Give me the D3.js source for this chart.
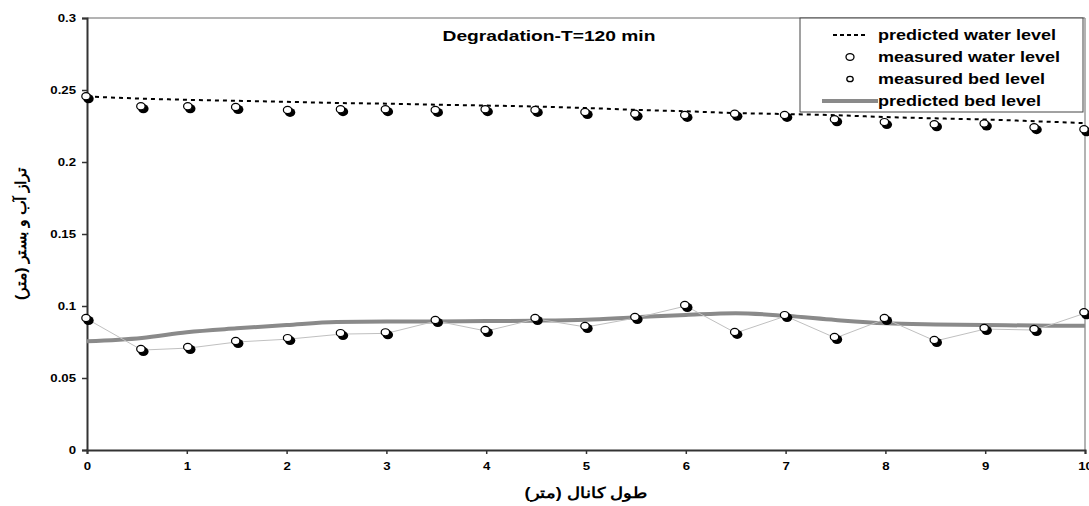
<!DOCTYPE html>
<html>
<head>
<meta charset="utf-8">
<script src="https://cdn.jsdelivr.net/npm/d3@7"></script>
<style>
  body { margin: 0; background: #fff; }
  svg { font-family: "Liberation Sans", Arial, sans-serif; }
</style>
</head>
<body>
<svg id="chart" width="1089" height="506"></svg>
<script>
// Data
const measuredX = [0, 0.55, 1.02, 1.5, 2.02, 2.55, 3.0, 3.5, 4.0, 4.5, 5.0, 5.5, 6.0, 6.5, 7.0, 7.5, 8.0, 8.5, 9.0, 9.5, 10];
const measuredWater = [0.245, 0.238, 0.238, 0.2375, 0.2355, 0.236, 0.236, 0.2355, 0.236, 0.2355, 0.234, 0.2328, 0.232, 0.2328, 0.232, 0.229, 0.227, 0.2255, 0.226, 0.2235, 0.222];
const measuredBed = [0.091, 0.0694, 0.0708, 0.075, 0.077, 0.0805, 0.081, 0.0896, 0.0826, 0.091, 0.0854, 0.0917, 0.100, 0.0813, 0.093, 0.0778, 0.091, 0.0757, 0.084, 0.0833, 0.095];

const predX = [0, 0.55, 1, 1.5, 2, 2.5, 3, 3.5, 4, 4.5, 5, 5.5, 6, 6.5, 7, 7.5, 8, 8.5, 9, 9.5, 10];
const predWater = [0.2455, 0.244, 0.2432, 0.2425, 0.2418, 0.241, 0.2405, 0.2398, 0.2392, 0.2385, 0.2375, 0.2362, 0.2352, 0.234, 0.2333, 0.2325, 0.2312, 0.2303, 0.2295, 0.2283, 0.227];
const predBed = [0.0755, 0.0778, 0.0818, 0.0845, 0.0868, 0.0889, 0.0892, 0.0893, 0.0895, 0.0898, 0.0905, 0.0922, 0.0938, 0.095, 0.0932, 0.0903, 0.088, 0.0872, 0.0868, 0.0864, 0.0862];

const xTicks = [0, 1, 2, 3, 4, 5, 6, 7, 8, 9, 10];
const yTicks = [0, 0.05, 0.1, 0.15, 0.2, 0.25, 0.3];

const legendItems = ["predicted water level", "measured water level", "measured bed level", "predicted bed level"];

const svg = d3.select("#chart");
const margin = { left: 87, right: 4, top: 18, bottom: 56 };
const W = 1089, H = 506;

const x = d3.scaleLinear().domain([0, 10]).range([margin.left, W - margin.right]);
const y = d3.scaleLinear().domain([0, 0.3]).range([H - margin.bottom, margin.top]);

// the original picture is stretched sideways, so widen texts a bit
function stretch(sel, k) {
  sel.each(function () {
    const w = this.getComputedTextLength();
    d3.select(this).attr("textLength", w * k).attr("lengthAdjust", "spacingAndGlyphs");
  });
}

// frame (top and right)
svg.append("line")
  .attr("x1", x(0)).attr("x2", x(10)).attr("y1", y(0.3)).attr("y2", y(0.3))
  .attr("stroke", "#9a9a9a").attr("stroke-width", 1.5);
svg.append("line")
  .attr("x1", x(10)).attr("x2", x(10)).attr("y1", y(0.3)).attr("y2", y(0))
  .attr("stroke", "#9a9a9a").attr("stroke-width", 1.5);

// axes
const xAxis = svg.append("g")
  .attr("transform", `translate(0,${y(0)})`)
  .call(d3.axisBottom(x).tickValues(xTicks).tickSize(4).tickPadding(8).tickFormat(d3.format("d")));
const yAxis = svg.append("g")
  .attr("transform", `translate(${x(0)},0)`)
  .call(d3.axisLeft(y).tickValues(yTicks).tickSize(5).tickPadding(6).tickFormat(d => d === 0 ? "0" : String(+d.toFixed(2))));

[xAxis, yAxis].forEach(g => {
  g.select(".domain").attr("stroke", "#333").attr("stroke-width", 2);
  g.selectAll(".tick line").attr("stroke", "#333").attr("stroke-width", 1.5);
  g.selectAll(".tick text")
    .attr("fill", "#000")
    .style("font-size", "11px")
    .style("font-weight", "bold")
    .call(stretch, 1.2);
});

// predicted bed level (thick grey)
const line = d3.line().x(d => x(d[0])).y(d => y(d[1])).curve(d3.curveMonotoneX);
svg.append("path")
  .datum(predX.map((v, i) => [v, predBed[i]]))
  .attr("d", line)
  .attr("fill", "none")
  .attr("stroke", "#8a8a8a")
  .attr("stroke-width", 4);

// measured bed connecting thin line
svg.append("path")
  .datum(measuredX.map((v, i) => [v, measuredBed[i]]))
  .attr("d", d3.line().x(d => x(d[0])).y(d => y(d[1])))
  .attr("fill", "none")
  .attr("stroke", "#c0c0c0")
  .attr("stroke-width", 1);

// predicted water level (dotted)
svg.append("path")
  .datum(predX.map((v, i) => [v, predWater[i]]))
  .attr("d", line)
  .attr("fill", "none")
  .attr("stroke", "#000")
  .attr("stroke-width", 2)
  .attr("stroke-dasharray", "4,4");

// shaded markers
function drawMarkers(values) {
  const g = svg.append("g");
  const pts = measuredX.map((v, i) => [v, values[i]]);
  g.selectAll("ellipse.shadow").data(pts).join("ellipse")
    .attr("class", "shadow")
    .attr("cx", d => x(d[0]) + 1.5).attr("cy", d => y(d[1]) + 1.5)
    .attr("rx", 5.2).attr("ry", 4.5).attr("fill", "#000");
  g.selectAll("ellipse.face").data(pts).join("ellipse")
    .attr("class", "face")
    .attr("cx", d => x(d[0]) - 1).attr("cy", d => y(d[1]) - 1)
    .attr("rx", 4.2).attr("ry", 3.6).attr("fill", "#fff").attr("stroke", "#000").attr("stroke-width", 1.2);
}
drawMarkers(measuredWater);
drawMarkers(measuredBed);

// title
svg.append("text")
  .attr("x", 549).attr("y", 41)
  .attr("text-anchor", "middle")
  .style("font-size", "15px").style("font-weight", "bold")
  .text("Degradation-T=120 min")
  .call(stretch, 1.28);

// legend
const lg = svg.append("g");
lg.append("rect")
  .attr("x", 800).attr("y", 18).attr("width", 283).attr("height", 94)
  .attr("fill", "#fff").attr("stroke", "#444").attr("stroke-width", 1);
legendItems.forEach((t, i) => {
  const cy = 35 + i * 22;
  lg.append("text")
    .attr("x", 878).attr("y", cy + 5)
    .style("font-size", "15px").style("font-weight", "bold")
    .text(t)
    .call(stretch, 1.2);
  if (i === 0) {
    lg.append("line").attr("x1", 833).attr("x2", 868).attr("y1", cy).attr("y2", cy)
      .attr("stroke", "#000").attr("stroke-width", 2).attr("stroke-dasharray", "4,3");
  } else if (i === 3) {
    lg.append("line").attr("x1", 822).attr("x2", 878).attr("y1", cy).attr("y2", cy)
      .attr("stroke", "#8a8a8a").attr("stroke-width", 4);
  } else {
    lg.append("ellipse").attr("cx", 850).attr("cy", cy)
      .attr("rx", i === 1 ? 4 : 3.2).attr("ry", i === 1 ? 3.4 : 2.7)
      .attr("fill", "#fff").attr("stroke", "#000").attr("stroke-width", 1.3);
  }
});

// axis titles
svg.append("text")
  .attr("x", (x(0) + x(10)) / 2).attr("y", 498)
  .attr("text-anchor", "middle")
  .attr("direction", "rtl")
  .style("font-size", "15px").style("font-weight", "bold")
  .text("طول کانال (متر)")
  .call(stretch, 1.2);
svg.append("text")
  .attr("transform", `translate(26,${(y(0) + y(0.3)) / 2}) rotate(-90)`)
  .attr("text-anchor", "middle")
  .attr("direction", "rtl")
  .style("font-size", "15px").style("font-weight", "bold")
  .text("تراز آب و بستر (متر)")
  .call(stretch, 1.05);
</script>
</body>
</html>
